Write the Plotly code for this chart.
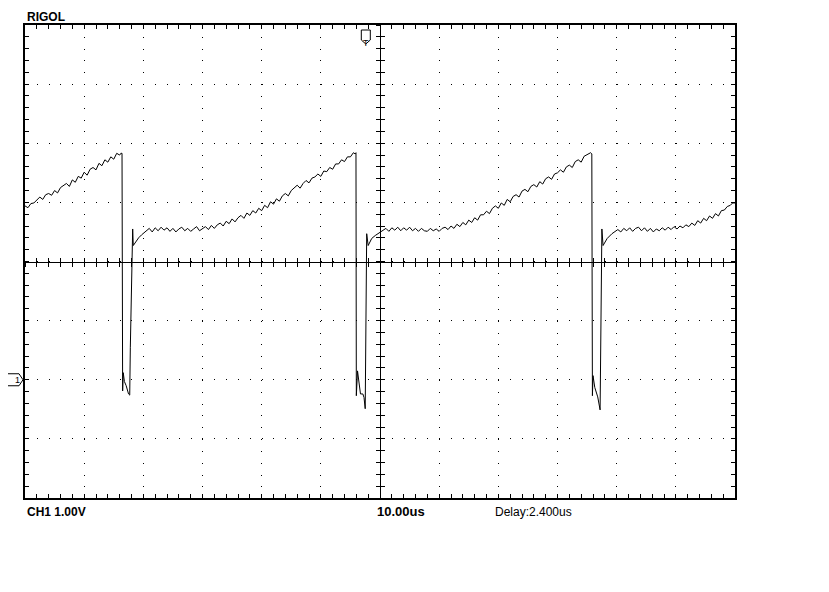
import plotly.graph_objects as go

# ---- scope settings (from the screen) ----
volts_per_div = 1.00
us_per_div = 10.0
delay_us = 2.4
trigger_time_us = -delay_us
ground_level_v = 0.0

# ---- CH1 trace (time in us, voltage in V) ----
ramp_a_t = [-60.0, -59.5, -59.0, -58.5, -58.0, -57.5, -57.0, -56.5, -56.0, -55.5, -55.0, -54.5,
            -54.0, -53.5, -53.0, -52.5, -52.0, -51.5, -51.0, -50.5, -50.0, -49.5, -49.0, -48.5,
            -48.0, -47.5, -47.0, -46.5, -46.0, -45.5, -45.0, -44.5, -44.0, -43.8]
ramp_a_v = [2.94, 2.91, 2.98, 2.99, 3.04, 3.09, 3.05, 3.13, 3.15, 3.12, 3.20, 3.16,
            3.25, 3.29, 3.32, 3.27, 3.38, 3.34, 3.44, 3.41, 3.51, 3.46, 3.56, 3.59,
            3.55, 3.66, 3.62, 3.72, 3.68, 3.77, 3.73, 3.83, 3.80, 3.83]

pulse1_t = [-43.6, -43.5, -43.4, -43.2, -42.9, -42.5, -42.3, -42.2, -42.0, -41.8, -41.7, -41.3, -40.8, -40.3]
pulse1_v = [3.83, -0.19, 0.12, -0.03, -0.10, -0.24, -0.26, 0.54, 1.84, 2.55, 2.27, 2.33, 2.40, 2.45]

ramp1_t = [-39.8, -39.0, -38.5, -38.0, -37.5, -37.0, -36.5, -36.0, -35.5, -35.0, -34.5, -34.0,
           -33.5, -33.0, -32.5, -32.0, -31.5, -31.0, -30.5, -30.0, -29.5, -29.0, -28.5, -28.0,
           -27.5, -27.0, -26.5, -26.0, -25.5, -25.0, -24.5, -24.0, -23.5, -23.0, -22.5, -22.0,
           -21.5, -21.0, -20.5, -20.0, -19.5, -19.0, -18.5, -18.0, -17.5, -17.0, -16.5, -16.0,
           -15.5, -15.0, -14.5, -14.0, -13.5, -13.0, -12.5, -12.0, -11.5, -11.0, -10.5, -10.0,
           -9.5, -9.0, -8.5, -8.0, -7.5, -7.0, -6.5, -6.0, -5.5, -5.0, -4.5, -4.2]
ramp1_v = [2.49, 2.56, 2.50, 2.57, 2.52, 2.58, 2.53, 2.57, 2.51, 2.56, 2.50, 2.55,
           2.58, 2.52, 2.56, 2.51, 2.55, 2.59, 2.52, 2.56, 2.59, 2.54, 2.61, 2.56,
           2.62, 2.65, 2.60, 2.68, 2.64, 2.72, 2.67, 2.74, 2.78, 2.73, 2.82, 2.78,
           2.86, 2.82, 2.90, 2.86, 2.95, 2.91, 3.01, 2.97, 3.06, 3.02, 3.11, 3.15,
           3.11, 3.20, 3.25, 3.29, 3.24, 3.32, 3.37, 3.33, 3.41, 3.43, 3.48, 3.44,
           3.53, 3.52, 3.59, 3.56, 3.65, 3.65, 3.72, 3.69, 3.77, 3.77, 3.84, 3.82]

pulse2_t = [-4.06, -4.0, -3.8, -3.6, -3.3, -2.9, -2.7, -2.5, -2.4, -2.25, -2.0, -1.4, -0.8, -0.3]
pulse2_v = [3.84, -0.27, 0.15, -0.05, -0.24, -0.24, -0.30, -0.49, 1.00, 2.47, 2.27, 2.39, 2.44, 2.47]

ramp2_t = [0.5, 1.0, 1.5, 2.0, 2.5, 3.0, 3.5, 4.0, 4.5, 5.0, 5.5, 6.0, 6.5, 7.0, 7.5, 8.0,
           8.5, 9.0, 9.5, 10.0, 10.5, 11.0, 11.5, 12.0, 12.5, 13.0, 13.5, 14.0, 14.5, 15.0,
           15.5, 16.0, 16.5, 17.0, 17.5, 18.0, 18.5, 19.0, 19.5, 20.0, 20.5, 21.0, 21.5, 22.0,
           22.5, 23.0, 23.5, 24.0, 24.5, 25.0, 25.5, 26.0, 26.5, 27.0, 27.5, 28.0, 28.5, 29.0,
           29.5, 30.0, 30.5, 31.0, 31.5, 32.0, 32.5, 33.0, 33.5, 34.0, 34.5, 35.0, 35.6]
ramp2_v = [2.52, 2.56, 2.51, 2.57, 2.53, 2.58, 2.52, 2.57, 2.53, 2.58, 2.52, 2.56, 2.51, 2.56, 2.52, 2.51,
           2.56, 2.52, 2.55, 2.51, 2.56, 2.58, 2.54, 2.60, 2.56, 2.63, 2.59, 2.66, 2.62, 2.70,
           2.66, 2.74, 2.70, 2.79, 2.79, 2.85, 2.81, 2.90, 2.94, 2.90, 2.99, 2.95, 3.05, 3.01,
           3.10, 3.13, 3.09, 3.19, 3.22, 3.18, 3.27, 3.30, 3.26, 3.35, 3.31, 3.40, 3.43, 3.39,
           3.48, 3.50, 3.55, 3.51, 3.60, 3.63, 3.59, 3.69, 3.72, 3.68, 3.78, 3.81, 3.84]

pulse3_t = [35.8, 35.9, 36.0, 36.3, 36.8, 37.2, 37.3, 37.5, 37.7, 38.4, 39.2]
pulse3_v = [3.82, -0.27, 0.07, -0.13, -0.29, -0.51, 0.27, 2.55, 2.27, 2.39, 2.47]

ramp3_t = [40.2, 40.7, 41.2, 41.7, 42.2, 42.7, 43.2, 43.7, 44.2, 44.7, 45.2, 45.7, 46.2, 46.7,
           47.2, 47.7, 48.2, 48.7, 49.2, 49.7, 50.2, 50.7, 51.2, 51.7, 52.2, 52.7, 53.2, 53.7,
           54.2, 54.7, 55.2, 55.7, 56.2, 56.7, 57.2, 57.7, 58.2, 58.7, 59.2, 59.6, 60.0]
ramp3_v = [2.54, 2.50, 2.56, 2.52, 2.57, 2.51, 2.56, 2.58, 2.52, 2.57, 2.51, 2.56, 2.50, 2.55,
           2.52, 2.57, 2.53, 2.58, 2.54, 2.59, 2.55, 2.60, 2.57, 2.62, 2.59, 2.65, 2.61, 2.69,
           2.65, 2.73, 2.69, 2.77, 2.73, 2.81, 2.77, 2.86, 2.87, 2.93, 2.95, 2.99, 2.99]

time_us = ramp_a_t + pulse1_t + ramp1_t + pulse2_t + ramp2_t + pulse3_t + ramp3_t
ch1_v = ramp_a_v + pulse1_v + ramp1_v + pulse2_v + ramp2_v + pulse3_v + ramp3_v

# screen: 12 x 8 divisions, center at 0 us and ground + 2 div
x_range = [-6 * us_per_div, 6 * us_per_div]
y_range = [ground_level_v - 2 * volts_per_div, ground_level_v + 6 * volts_per_div]

W, H = 829, 592
PAGE = 8                      # browser body margin
ML, MT = 25 - PAGE, 25 - PAGE
PW, PH = 710, 473
MR, MB = W - ML - PW, H - MT - PH
minor_px = PW / 60.0  # 1/5 division in pixels
dot_dash = "1px,%.3fpx" % (minor_px - 1)

fig = go.Figure()
fig.add_trace(go.Scatter(x=time_us, y=ch1_v, mode="lines",
                         line=dict(color="black", width=1), showlegend=False,
                         hoverinfo="skip"))
# helper traces so that the centre axes get drawn
for xa, ya in [("x2", "y"), ("x3", "y"), ("x", "y2"), ("x", "y3")]:
    fig.add_trace(go.Scatter(x=[None], y=[None], xaxis=xa, yaxis=ya,
                             showlegend=False, hoverinfo="skip"))

frame_x = dict(range=x_range, showline=True, linewidth=2, linecolor="black",
               mirror="allticks", ticks="inside", ticklen=4, tickwidth=1,
               tickcolor="black", dtick=us_per_div, tick0=0,
               minor=dict(dtick=us_per_div / 5, ticks="inside", ticklen=4,
                          tickcolor="black", showgrid=False),
               showgrid=True, gridcolor="black", gridwidth=1, griddash=dot_dash,
               zeroline=False, showticklabels=False, fixedrange=True)
frame_y = dict(range=y_range, showline=True, linewidth=2, linecolor="black",
               mirror="allticks", ticks="inside", ticklen=4, tickwidth=1,
               tickcolor="black", dtick=volts_per_div, tick0=0,
               minor=dict(dtick=volts_per_div / 5, ticks="inside", ticklen=4,
                          tickcolor="black", showgrid=False),
               showgrid=True, gridcolor="black", gridwidth=1, griddash=dot_dash,
               zeroline=False, showticklabels=False, fixedrange=True)


def centre_axis(rng, dt, side_ticks, over):
    return dict(range=rng, overlaying=over, anchor="free", position=0.5,
                showline=True, linewidth=1, linecolor="black", ticks=side_ticks,
                ticklen=4, tickwidth=1, tickcolor="black", dtick=dt, tick0=0,
                showgrid=False, zeroline=False, showticklabels=False, fixedrange=True)


fig.update_layout(
    width=W, height=H, autosize=False,
    margin=dict(l=ML, r=MR, t=MT, b=MB, pad=0),
    paper_bgcolor="white", plot_bgcolor="white",
    xaxis=frame_x, yaxis=frame_y,
    xaxis2=centre_axis(x_range, us_per_div / 5, "inside", "x"),
    xaxis3=centre_axis(x_range, us_per_div / 5, "outside", "x"),
    yaxis2=centre_axis(y_range, volts_per_div / 5, "inside", "y"),
    yaxis3=centre_axis(y_range, volts_per_div / 5, "outside", "y"),
    showlegend=False,
    font=dict(family="Liberation Sans, Arial, sans-serif", color="black"),
)


def py(p):  # screen pixel row -> paper y
    return (25 + PH - p) / PH


def px(p):  # screen pixel column -> paper x
    return (p - 25) / PW


anns = [
    dict(text="<b>RIGOL</b>", x=px(25), y=py(17), size=12),
    dict(text="<b>CH1 %.2fV</b>" % volts_per_div, x=px(25), y=py(512), size=12),
    dict(text="<b>%.2fus</b>" % us_per_div, x=px(375), y=py(512), size=13),
    dict(text="Delay:%.3fus" % delay_us, x=px(493), y=py(512), size=12),
]
for a in anns:
    fig.add_annotation(text=a["text"], x=a["x"], y=a["y"], xref="paper", yref="paper",
                       xanchor="left", yanchor="middle", showarrow=False,
                       font=dict(size=a["size"], color="black"))

# trigger position marker (top)
fig.add_shape(type="path", xref="x", yref="paper", xsizemode="pixel", ysizemode="pixel",
              xanchor=trigger_time_us, yanchor=1,
              path="M -4.5,-5 L 4.5,-5 L 4.5,-15 L 0,-19 L -4.5,-15 Z",
              line=dict(color="black", width=1), fillcolor="white")
fig.add_annotation(text="T", x=trigger_time_us, y=1, xref="x", yref="paper",
                   yshift=-11, showarrow=False, font=dict(size=9, color="black"))
# channel 1 ground marker (left)
fig.add_shape(type="path", xref="paper", yref="y", xsizemode="pixel", ysizemode="pixel",
              xanchor=0, yanchor=ground_level_v,
              path="M -18,6 L -6,6 L -2,0 L -6,-6 L -18,-6 Z",
              line=dict(color="black", width=1), fillcolor="white")
fig.add_annotation(text="1", x=0, y=ground_level_v, xref="paper", yref="y",
                   xshift=-12, showarrow=False, font=dict(size=9, color="black"))

fig.write_html("out.html")
